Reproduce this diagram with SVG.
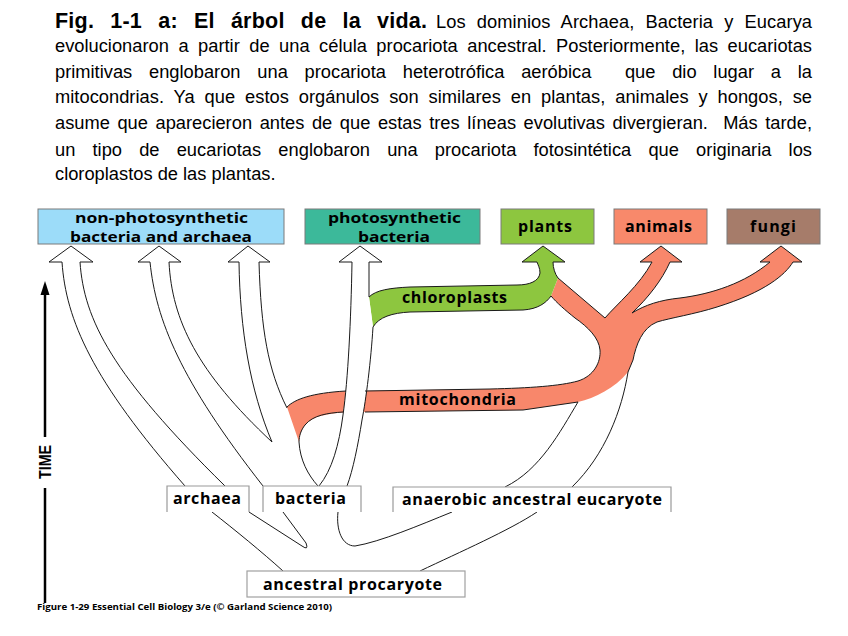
<svg xmlns="http://www.w3.org/2000/svg" width="848" height="636" viewBox="0 0 848 636">
<style>
.hb{font-family:"Liberation Sans",Arial,sans-serif;font-weight:700;font-size:21.5px;fill:#000}
.hr{font-family:"Liberation Sans",Arial,sans-serif;font-size:18.3px;fill:#000}
.lb{font-family:"Open Sans","Noto Sans",sans-serif;font-weight:700;font-size:16px;fill:#000}
.lt{font-family:"Open Sans","Noto Sans",sans-serif;font-weight:700;font-size:13.5px;fill:#000}
.box{stroke:#7a7a7a;stroke-width:1}
.mid{fill:#fff;stroke:none}
.midb{fill:none;stroke:#9a9a9a;stroke-width:1.2}
.ln{fill:none;stroke:#1a1a1a;stroke-width:1;stroke-linejoin:round}
.red{fill:#f8876b}
.grn{fill:#8dc63f}
</style>

<g id="caption-text">
<text class="hb" x="55" y="28" textLength="372" lengthAdjust="spacing" word-spacing="10">Fig. 1-1 a: El árbol de la vida.</text>
<text class="hr" x="436" y="28" textLength="376" lengthAdjust="spacing" word-spacing="6">Los dominios Archaea, Bacteria y Eucarya</text>
<text class="hr" x="55" y="52" textLength="757" lengthAdjust="spacing" word-spacing="4.4">evolucionaron a partir de una célula procariota ancestral. Posteriormente, las eucariotas</text>
<text class="hr" x="55" y="78" textLength="757" lengthAdjust="spacing" word-spacing="11.7">primitivas englobaron una procariota heterotrófica aeróbica&#160; que dio lugar a la</text>
<text class="hr" x="55" y="103" textLength="757" lengthAdjust="spacing" word-spacing="4.8">mitocondrias. Ya que estos orgánulos son similares en plantas, animales y hongos, se</text>
<text class="hr" x="55" y="129" textLength="757" lengthAdjust="spacing" word-spacing="2.5">asume que aparecieron antes de que estas tres líneas evolutivas divergieran.&#160; Más tarde,</text>
<text class="hr" x="55" y="156" textLength="757" lengthAdjust="spacing" word-spacing="12">un tipo de eucariotas englobaron una procariota fotosintética que originaria los</text>
<text class="hr" x="55" y="180">cloroplastos de las plantas.</text>
</g>

<g id="connectors">
  <path class="red" d="M287,407 C295,399 312,393 346,391 L490,389 C530,388 560,386 578,381 C594,376 601,362 600,350 C599,338 588,327 575,318 C565,310 557,303 551,296 L558,278 L605,318 C616,305 640,285 652,262 L640,262 L661,246 L682,262 L670,262 C662,280 648,298 632,313 C645,305 660,300 680,298 C712,294 745,283 770,262 L760,262 L781,246 L802,262 L793,262 C785,275 765,292 717,307 C695,314 670,318 657,322 C642,328 636,345 633,360 L628,372 C615,388 595,398 578,402 L523,410 L365,412 C335,412 315,414 305,425 C301,430 299,436 299,442 Z"/>
  <path class="grn" d="M369,297 C376,290 390,288 410,287 L517,285 C530,285 539,281 540,273 C540,268 538,265 537,262 L522,262 L543,246 L565,262 L553,262 C553,268 555,274 558,278 L551,296 C546,303 538,309 523,310 L410,312 C392,313 379,317 373,327 Z"/>
  <path fill="#fff" d="M352,262 L369,262 L369,297 L373,327 C371,360 366,400 362,420 C358,445 353,470 347,486 L319,486 C332,470 339,445 343,415 C348,380 351,320 352,262 Z"/>

  <path class="ln" d="M287,407 C295,399 312,393 346,391 M365,391 L490,389 C530,388 560,386 578,381 C594,376 601,362 600,350 C599,338 588,327 575,318 C565,310 557,303 551,296"/>
  <path class="ln" d="M558,278 L605,318 C616,305 640,285 652,262 L640,262 L661,246 L682,262 L670,262 C662,280 648,298 632,313 C645,305 660,300 680,298 C712,294 745,283 770,262 L760,262 L781,246 L802,262 L793,262 C785,275 765,292 717,307 C695,314 670,318 657,322 C642,328 636,345 633,360 L628,372 C622,410 605,455 572,487"/>
  <path class="ln" d="M505,487 C540,470 560,432 578,402 L523,410 L365,412 M343,412 C328,413 313,415 305,425 C301,430 299,436 299,442 C300,460 308,475 318,486"/>
  <path class="ln" d="M369,297 C376,290 390,288 410,287 L517,285 C530,285 539,281 540,273 C540,268 538,265 537,262 L522,262 L543,246 L565,262 L553,262 C553,268 555,274 558,278"/>
  <path class="ln" d="M551,296 C546,303 538,309 523,310 L410,312 C392,313 379,317 373,327"/>

  <path class="ln" d="M62,262 L49,262 L71,246 L93,262 L80,262"/>
  <path class="ln" d="M62,262 C66,320 92,380 185,486"/>
  <path class="ln" d="M80,262 C84,320 112,375 225,486"/>
  <path class="ln" d="M150,262 L138,262 L159,246 L181,262 L169,262"/>
  <path class="ln" d="M150,262 C156,320 180,380 263,486"/>
  <path class="ln" d="M169,262 C172,320 197,372 272,442"/>
  <path class="ln" d="M239,262 L228,262 L248,246 L270,262 L259,262"/>
  <path class="ln" d="M239,262 C240,330 250,390 272,442"/>
  <path class="ln" d="M259,262 C261,330 268,370 287,408"/>
  <path class="ln" d="M352,262 L339,262 L360,246 L382,262 L369,262 L369,297"/>
  <path class="ln" d="M352,262 C351,320 348,380 343,415 C339,445 332,470 319,486"/>
  <path class="ln" d="M373,327 C371,360 366,400 362,420 C358,445 353,470 347,486"/>

  <path class="ln" d="M212,512 C235,530 262,552 283,571"/>
  <path class="ln" d="M249,512 L302,546 Q309,551 306,543 L283,512"/>
  <path class="ln" d="M338,512 C336,530 342,546 355,546 C380,542 420,525 452,512"/>
  <path class="ln" d="M537,512 C510,530 460,552 420,571"/>

  <text class="lb" x="402" y="303" textLength="105" lengthAdjust="spacing">chloroplasts</text>
  <text class="lb" x="399" y="405" textLength="117" lengthAdjust="spacing">mitochondria</text>
</g>

<g id="node-nonphoto">
  <rect class="box" x="38" y="209" width="246" height="35" fill="#9cdcf9"/>
  <text class="lt" x="75" y="222.5" textLength="173" lengthAdjust="spacingAndGlyphs">non-photosynthetic</text>
  <text class="lt" x="70" y="241.5" textLength="182" lengthAdjust="spacingAndGlyphs">bacteria and archaea</text>
</g>
<g id="node-photo">
  <rect class="box" x="305" y="209" width="175" height="35" fill="#3cb99a"/>
  <text class="lt" x="328" y="222.5" textLength="133" lengthAdjust="spacingAndGlyphs">photosynthetic</text>
  <text class="lt" x="358" y="241.5" textLength="72" lengthAdjust="spacingAndGlyphs">bacteria</text>
</g>
<g id="node-plants">
  <rect class="box" x="501" y="209" width="93" height="35" fill="#8dc63f"/>
  <text class="lb" x="518" y="232" textLength="54" lengthAdjust="spacing">plants</text>
</g>
<g id="node-animals">
  <rect class="box" x="614" y="209" width="93" height="35" fill="#f8896b"/>
  <text class="lb" x="625" y="232" textLength="67" lengthAdjust="spacing">animals</text>
</g>
<g id="node-fungi">
  <rect class="box" x="727" y="209" width="93" height="35" fill="#a67c6a"/>
  <text class="lb" x="750" y="232" textLength="46" lengthAdjust="spacing">fungi</text>
</g>

<g id="node-archaea">
  <rect class="mid" x="167" y="486" width="82" height="26"/>
  <path class="midb" d="M167,512 V486 H249 V512"/>
  <text class="lb" x="173" y="504" textLength="68" lengthAdjust="spacing">archaea</text>
</g>
<g id="node-bacteria">
  <rect class="mid" x="263" y="486" width="98" height="26"/>
  <path class="midb" d="M263,512 V486 H361 V512"/>
  <text class="lb" x="275" y="504" textLength="71" lengthAdjust="spacing">bacteria</text>
</g>
<g id="node-anaerobic">
  <rect class="mid" x="393" y="487" width="278" height="25"/>
  <path class="midb" d="M393,512 V487 H671 V512"/>
  <text class="lb" x="402" y="505" textLength="260" lengthAdjust="spacing">anaerobic ancestral eucaryote</text>
</g>
<g id="node-ancestral">
  <rect x="247" y="571" width="218" height="26" fill="#fff" stroke="#a0a0a0" stroke-width="1.2"/>
  <text class="lb" x="263" y="590" textLength="179" lengthAdjust="spacing">ancestral procaryote</text>
</g>

<g id="time-axis">
  <line x1="45" y1="292" x2="45" y2="437" stroke="#000" stroke-width="2.5"/>
  <line x1="45" y1="488" x2="45" y2="603" stroke="#000" stroke-width="2.5"/>
  <polygon points="45,281 40.5,295 49.5,295" fill="#000"/>
  <text transform="translate(51,462) rotate(-90)" text-anchor="middle" font-family="Liberation Sans, Arial, sans-serif" font-weight="700" font-size="16" textLength="34" lengthAdjust="spacingAndGlyphs">TIME</text>
</g>

<text x="37" y="610" font-family="Open Sans, Noto Sans, sans-serif" font-weight="700" font-size="9" textLength="295" lengthAdjust="spacingAndGlyphs">Figure 1-29 Essential Cell Biology 3/e (© Garland Science 2010)</text>
</svg>
